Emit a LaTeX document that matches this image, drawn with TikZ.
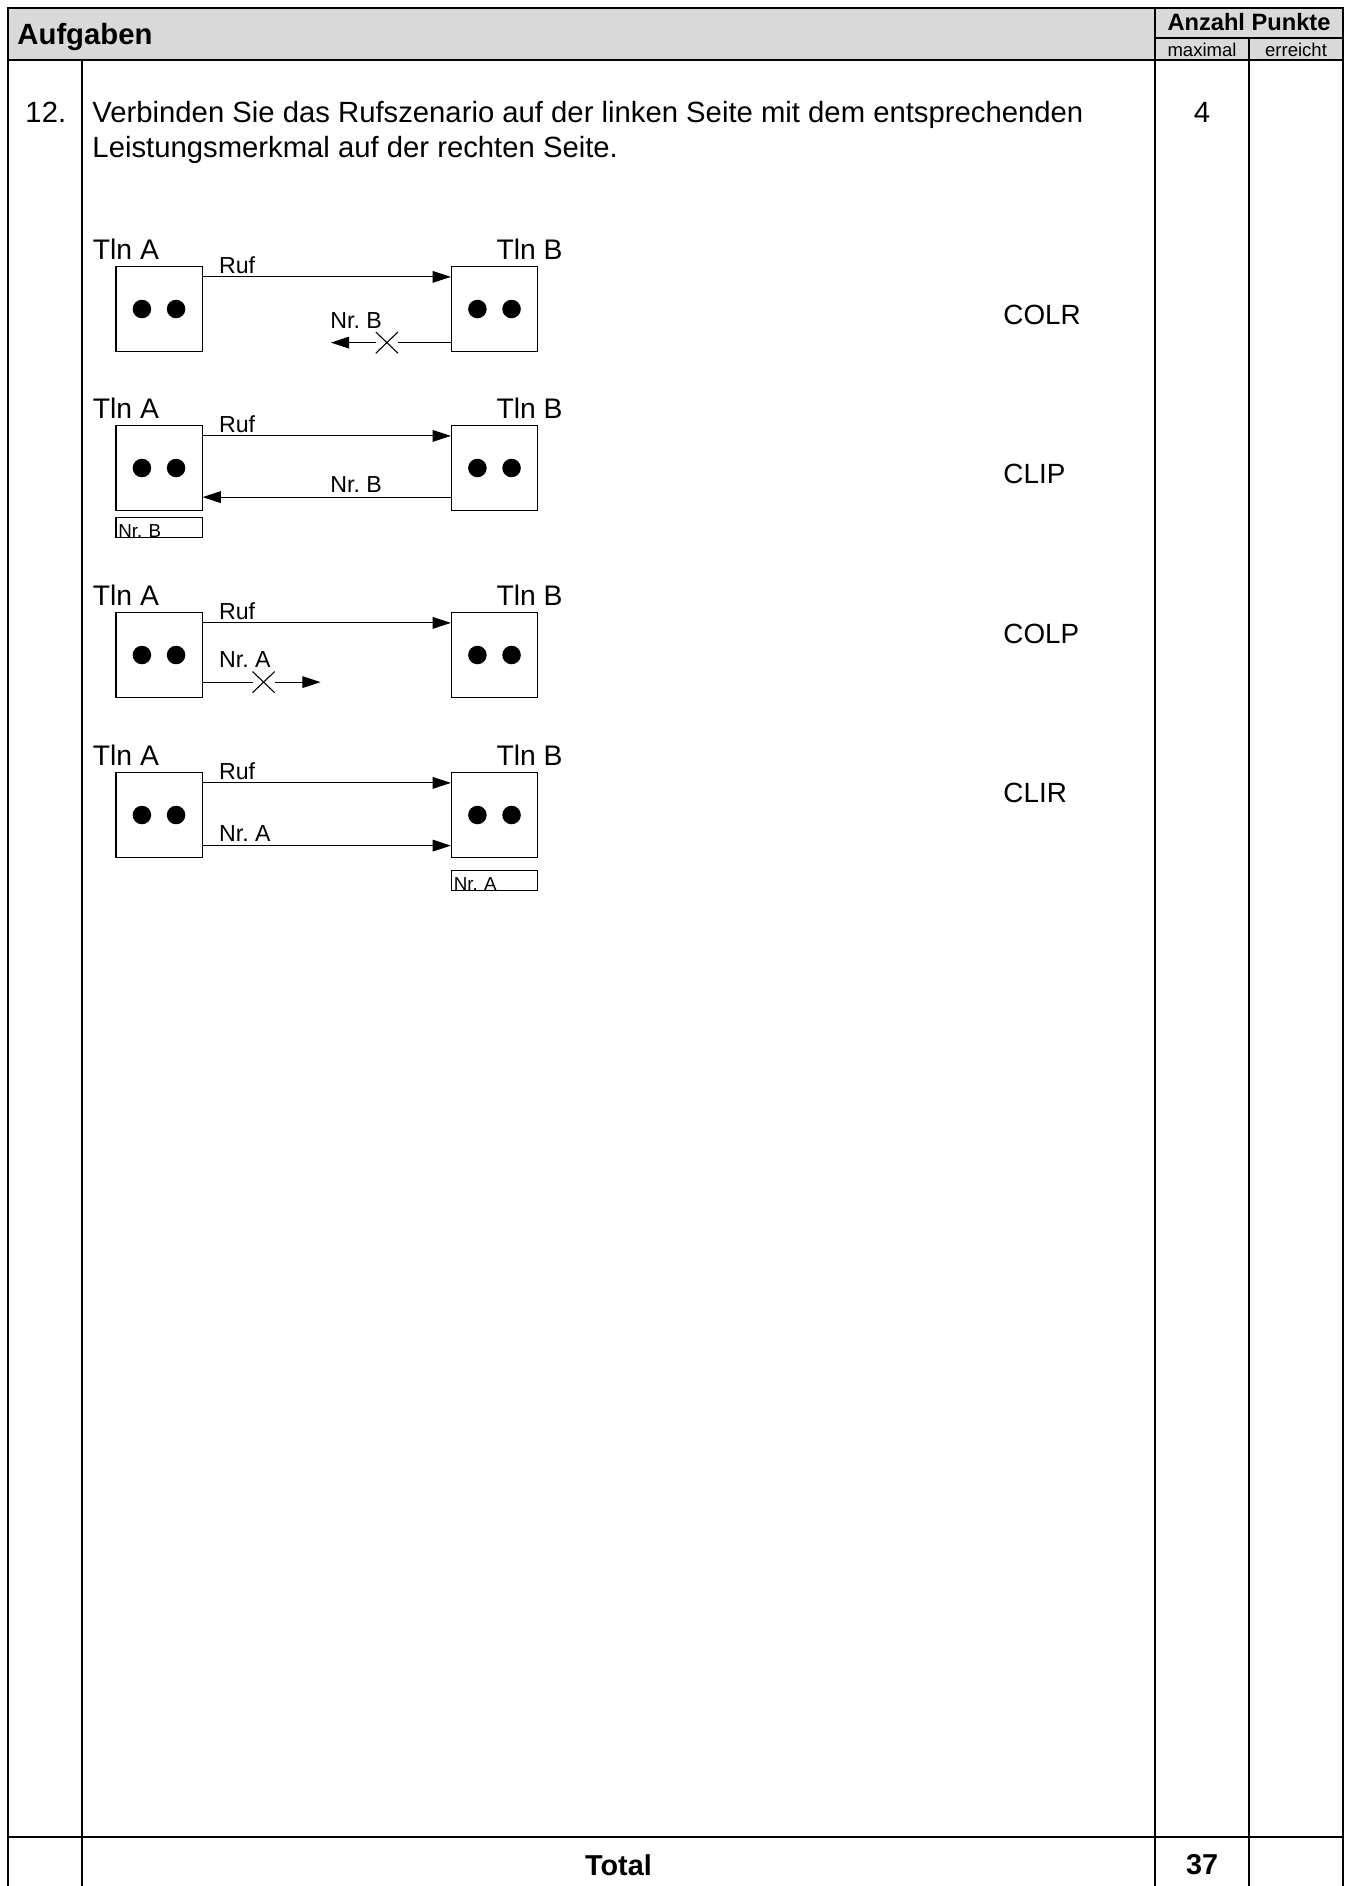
\documentclass[tikz,border=0pt]{standalone}
\usepackage{fontspec}
\setmainfont{Liberation Sans}
\frenchspacing
\usetikzlibrary{positioning,arrows.meta,shapes.misc}
\definecolor{kopfgrau}{RGB}{217,217,217}

\begin{document}
\begin{tikzpicture}[x=0.41pt,y=-0.41pt,node distance=101.8pt,
    tln/.style={rectangle,draw,line width=0.45pt,minimum width=35.3pt,minimum height=34.9pt,inner sep=0pt,
      path picture={
        \fill ([xshift=-7pt]path picture bounding box.center) circle (3.8pt);
        \fill ([xshift=7pt]path picture bounding box.center) circle (3.8pt);}},
    signal/.style={line width=0.45pt,-{Triangle[length=7.5pt,width=4.8pt]}},
    kreuz/.style={cross out,draw,line width=0.45pt,minimum width=8.6pt,minimum height=8.2pt,inner sep=0pt},
    anzeige/.style={rectangle,draw,line width=0.45pt,text width=33.3pt,inner xsep=1pt,inner ysep=0pt,
      text height=8.2pt,text depth=0pt,align=left,font=\fontsize{7.7}{8}\selectfont},
    gitter/.style={line width=0.9pt},
    klein/.style={inner sep=0pt,font=\fontsize{9.5}{11}\selectfont},
    teiln/.style={inner sep=0pt,font=\fontsize{11.6}{14}\selectfont},
    merkmal/.style={inner sep=0pt,anchor=west,font=\fontsize{11.4}{14}\selectfont}]
    \useasboundingbox (0,0) rectangle (1353,1886);

    % Tabelle
    \fill[kopfgrau] (8,8) rectangle (1343,60);
    \draw[gitter] (8,1886) -- (8,8) -- (1343,8) -- (1343,1886);
    \draw[gitter] (1155,8) -- (1155,1886);
    \draw[gitter] (1155,38) -- (1343,38);
    \draw[gitter] (1249,38) -- (1249,1886);
    \draw[line width=1.2pt] (8,60) -- (1343,60);
    \draw[gitter] (82,60) -- (82,1886);
    \draw[gitter] (8,1837) -- (1343,1837);

    \node[anchor=west,inner sep=0pt,font=\bfseries\fontsize{12}{14}\selectfont] (aufgaben) at (17,36.5) {Aufgaben};
    \node[inner sep=0pt,font=\bfseries\fontsize{9.7}{11}\selectfont] (punkte) at (1249,22) {Anzahl Punkte};
    \node[inner sep=0pt,font=\fontsize{7.6}{9}\selectfont] (maximal) at (1202,49.5) {maximal};
    \node[inner sep=0pt,font=\fontsize{7.6}{9}\selectfont] (erreicht) at (1296,49.5) {erreicht};

    \node[anchor=west,inner sep=0pt,font=\fontsize{12}{14}\selectfont] (nummer) at (25,112) {12.};
    \node[anchor=west,align=left,inner sep=0pt,font=\fontsize{12}{14.35}\selectfont] (aufgabe) at (92,132)
      {Verbinden Sie das Rufszenario auf der linken Seite mit dem entsprechenden\\
       Leistungsmerkmal auf der rechten Seite.};
    \node[inner sep=0pt,font=\fontsize{12}{14}\selectfont] (maxpunkte) at (1202,112) {4};

    % Szenario 1
    \node[tln] (a1) at (159,309) {};
    \node[tln,right=of a1] (b1) {};
    \node[teiln,anchor=base west] (ta1) at ([shift={(-23,-6)}]a1.north west) {Tln A};
    \node[teiln,anchor=base east] (tb1) at ([shift={(25,-6)}]b1.north east) {Tln B};
    \draw[signal] ([shift={(0,11)}]a1.north east) -- ([shift={(0,11)}]b1.north west);
    \node[klein,anchor=base west] (ruf1) at ([shift={(16,8)}]a1.north east) {Ruf};
    \node[kreuz] (x1) at ([shift={(-64,-9.5)}]b1.south west) {};
    \coordinate (e1) at ([shift={(-120,-9.5)}]b1.south west);
    \draw[signal] ([shift={(0,-9.5)}]b1.south west) -- (x1) -- (e1);
    \node[klein,anchor=base west] (nrb1) at ([shift={(-121,-24)}]b1.south west) {Nr. B};

    % Szenario 2
    \node[tln] (a2) at (159,468) {};
    \node[tln,right=of a2] (b2) {};
    \node[teiln,anchor=base west] (ta2) at ([shift={(-23,-6)}]a2.north west) {Tln A};
    \node[teiln,anchor=base east] (tb2) at ([shift={(25,-6)}]b2.north east) {Tln B};
    \draw[signal] ([shift={(0,11)}]a2.north east) -- ([shift={(0,11)}]b2.north west);
    \node[klein,anchor=base west] (ruf2) at ([shift={(16,8)}]a2.north east) {Ruf};
    \draw[signal] ([shift={(0,-14)}]b2.south west) -- ([shift={(0,-14)}]a2.south east);
    \node[klein,anchor=base west] (nrb2) at ([shift={(-121,-19)}]b2.south west) {Nr. B};
    \node[anzeige,anchor=north west] (anz2) at ([shift={(0,6)}]a2.south west) {Nr. B};

    % Szenario 3
    \node[tln] (a3) at (159,655) {};
    \node[tln,right=of a3] (b3) {};
    \node[teiln,anchor=base west] (ta3) at ([shift={(-23,-6)}]a3.north west) {Tln A};
    \node[teiln,anchor=base east] (tb3) at ([shift={(25,-6)}]b3.north east) {Tln B};
    \draw[signal] ([shift={(0,11)}]a3.north east) -- ([shift={(0,11)}]b3.north west);
    \node[klein,anchor=base west] (ruf3) at ([shift={(16,8)}]a3.north east) {Ruf};
    \node[kreuz] (x3) at ([shift={(61,-16)}]a3.south east) {};
    \coordinate (e3) at ([shift={(118,-16)}]a3.south east);
    \draw[signal] ([shift={(0,-16)}]a3.south east) -- (x3) -- (e3);
    \node[klein,anchor=base west] (nra3) at ([shift={(16,-31)}]a3.south east) {Nr. A};

    % Szenario 4
    \node[tln] (a4) at (159,815) {};
    \node[tln,right=of a4] (b4) {};
    \node[teiln,anchor=base west] (ta4) at ([shift={(-23,-6)}]a4.north west) {Tln A};
    \node[teiln,anchor=base east] (tb4) at ([shift={(25,-6)}]b4.north east) {Tln B};
    \draw[signal] ([shift={(0,11)}]a4.north east) -- ([shift={(0,11)}]b4.north west);
    \node[klein,anchor=base west] (ruf4) at ([shift={(16,8)}]a4.north east) {Ruf};
    \draw[signal] ([shift={(0,-12.5)}]a4.south east) -- ([shift={(0,-12.5)}]b4.south west);
    \node[klein,anchor=base west] (nra4) at ([shift={(16,-17)}]a4.south east) {Nr. A};
    \node[anzeige,anchor=north west] (anz4) at ([shift={(0,12)}]b4.south west) {Nr. A};

    % Leistungsmerkmale
    \node[merkmal] (colr) at (1003,315) {COLR};
    \node[merkmal] (clip) at (1003,474) {CLIP};
    \node[merkmal] (colp) at (1003,634) {COLP};
    \node[merkmal] (clir) at (1003,792.5) {CLIR};

    \node[inner sep=0pt,font=\bfseries\fontsize{11.8}{14}\selectfont] (total) at (618.5,1865) {Total};
    \node[inner sep=0pt,font=\bfseries\fontsize{11.8}{14}\selectfont] (summe) at (1202,1865) {37};
\end{tikzpicture}
\end{document}
